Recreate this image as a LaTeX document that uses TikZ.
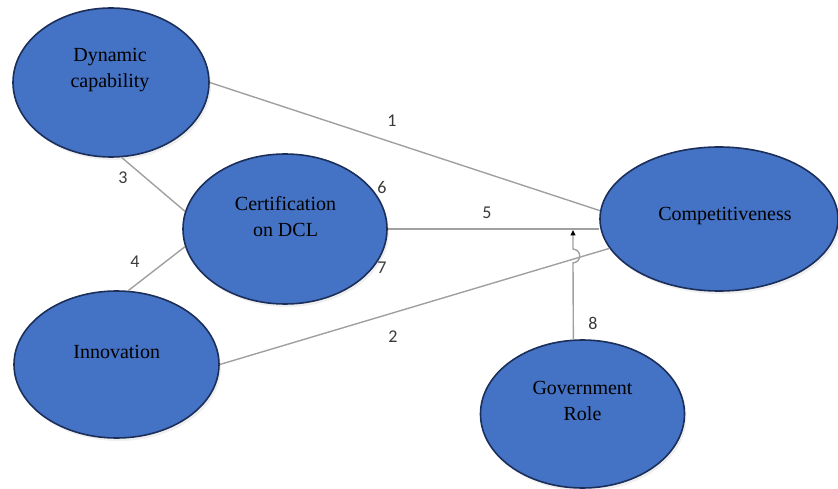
\documentclass[tikz,border=0pt]{standalone}
\usepackage{fontspec}
\setmainfont{Liberation Serif}
\newfontfamily\numfont{Carlito}
\usetikzlibrary{shapes.geometric,arrows.meta,shadows}
\definecolor{fillblue}{HTML}{4472C4}
\definecolor{edgeblue}{HTML}{1B2F5A}
\definecolor{linegray}{HTML}{A0A0A0}
\definecolor{numgray}{HTML}{3A3A3A}
\tikzset{
  oval/.style={ellipse, draw=edgeblue, line width=1.6pt, fill=fillblue, inner sep=0pt,
    drop shadow={shadow xshift=2pt, shadow yshift=-3pt, fill=black!10, opacity=0.6}},
  ovaltext/.style={font=\fontsize{20}{26}\selectfont, align=center, text=black, inner sep=0pt},
  link/.style={draw=linegray, line width=1.4pt},
  num/.style={font=\numfont\fontsize{18}{18}\selectfont, text=numgray, inner sep=0pt}
}
\begin{document}
\begin{tikzpicture}[x=1pt,y=-1pt]
\useasboundingbox (0,0) rectangle (838,489);
% ellipses
\node[oval, minimum width=196pt, minimum height=149pt] (dc) at (111,82.5) {};
\node[oval, minimum width=204pt, minimum height=150pt] (cert) at (285,229) {};
\node[oval, minimum width=205pt, minimum height=147pt] (inn) at (116.5,364.5) {};
\node[oval, minimum width=238pt, minimum height=144pt] (comp) at (719,219) {};
\node[oval, minimum width=204pt, minimum height=148pt] (gov) at (582.5,414) {};
% texts
\node[ovaltext] (dct) at (110,70) {Dynamic\\capability};
\node[ovaltext] (certt) at (285.5,217) {Certification\\on DCL};
\node[ovaltext] (innt) at (116.7,352) {Innovation};
\node[ovaltext] (compt) at (725,216) {Competitiveness};
\node[ovaltext] (govt) at (582.5,401) {Government\\Role};
% connectors
\draw[link] (dc.east) -- (comp.176);
\draw[link] (inn.east) -- (comp.195);
\draw[link] (dc.-82) -- (cert.170);
\draw[link] (inn.81) -- (cert.190);
\coordinate (c5) at (cert.east -| comp.west);
\draw[link] (cert.east) -- (c5);
\coordinate (h1) at (573,263);
\coordinate (h2) at (573,249);
\coordinate (t8) at (573,230);
\draw[link, -{Triangle[width=5pt,length=5.5pt,color=black]}]
  (gov.97.3) -- (h1) .. controls +(9,-1) and +(9,1) .. (h2) -- (t8);
% numbers
\node[num] (n1) at (392,121) {1};
\node[num] (n2) at (393,337) {2};
\node[num] (n3) at (123,178) {3};
\node[num] (n4) at (135,262) {4};
\node[num] (n5) at (487,213) {5};
\node[num] (n6) at (382,187) {6};
\node[num] (n7) at (382,268) {7};
\node[num] (n8) at (593,323) {8};
\end{tikzpicture}
\end{document}
